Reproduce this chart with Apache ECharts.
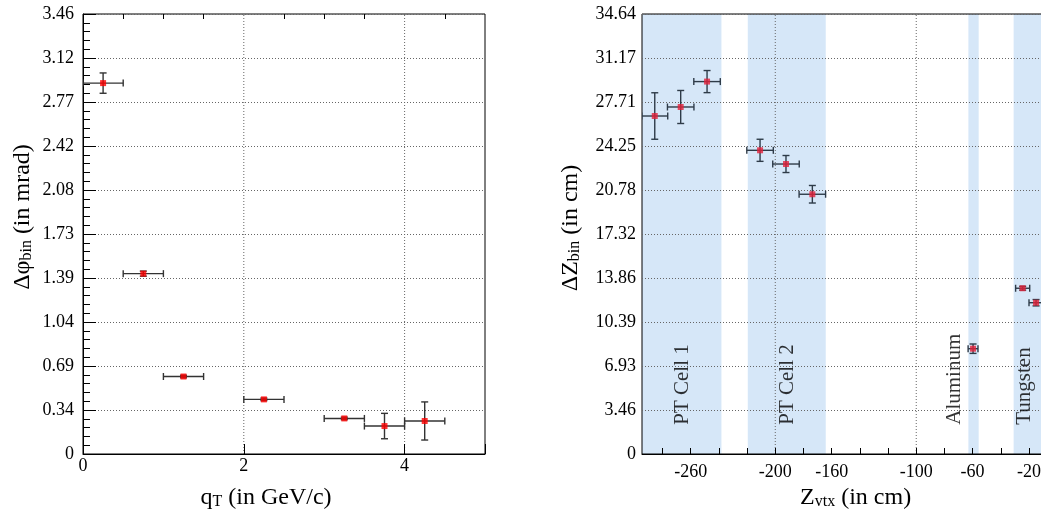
<!DOCTYPE html>
<html><head><meta charset="utf-8">
<script src="https://cdn.jsdelivr.net/npm/echarts@6/dist/echarts.min.js"></script>
<style>html,body{margin:0;padding:0;background:#fff}#c{width:1041px;height:519px}</style>
</head><body><div id="c"></div>
<script>
// ---- Left panel data: Δφ_bin vs q_T ----
const leftX    = [0.25, 0.75, 1.25, 2.25, 3.25, 3.75, 4.25];
const leftXErr = [0.25, 0.25, 0.25, 0.25, 0.25, 0.25, 0.25];
const leftY    = [2.92, 1.42, 0.61, 0.43, 0.28, 0.22, 0.26];
const leftYErr = [0.08, 0.02, 0.01, 0.01, 0.01, 0.10, 0.15];
const leftYStep = 0.34641;
const leftYTickLabels = ['0', '0.34', '0.69', '1.04', '1.39', '1.73', '2.08', '2.42', '2.77', '3.12', '3.46'];
const leftXTickLabels = [0, 2, 4];
const leftXMinorTicks = [0.5, 1, 1.5, 2.5, 3, 3.5, 4.5];
const leftVGrid = [2, 4];

// ---- Right panel data: ΔZ_bin vs Z_vtx ----
const rightX    = [-285.5, -267.1, -248.4, -210.8, -192.4, -173.7, -59.7, -24.5, -15.0];
const rightXErr = [9.2, 9.4, 9.4, 9.4, 9.4, 9.4, 3.5, 5, 5];
const rightY    = [26.61, 27.32, 29.32, 23.91, 22.83, 20.45, 8.29, 13.05, 11.91];
const rightYErr = [1.83, 1.30, 0.87, 0.87, 0.67, 0.69, 0.37, 0.15, 0.25];
const rightYStep = 3.4641;
const rightYTickLabels = ['0', '3.46', '6.93', '10.39', '13.86', '17.32', '20.78', '24.25', '27.71', '31.17', '34.64'];
const rightXMin = -294.55, rightXMax = 0;
const rightXTicks = [-280,-260,-240,-220,-200,-180,-160,-140,-120,-100,-80,-60,-40,-20,0];
const rightXTickLabels = [-260, -200, -160, -100, -60, -20];
const rightVGrid = [-200, -100, 0];
const bandStart = [-294.55, -219.5, -63.0, -30.9];
const bandEnd   = [-238.2, -164.2, -55.7, -5];
const bandNames = ['PT Cell 1', 'PT Cell 2', 'Aluminum', 'Tungsten'];
const bandLabelX = [-265.5, -191.0, -72.7, -23.0];
const bandLabelY = [2.3, 2.3, 2.3, 2.3];

const FONT = 'Liberation Serif';
const pxPerUnitRight = 1.4096;

const chart = echarts.init(document.getElementById('c'), null, {renderer: 'canvas'});

function errSeries(xIdx, yIdx, xs, ys, xe, ye, color, name) {
  return {
    type: 'custom', name: name, xAxisIndex: xIdx, yAxisIndex: yIdx, z: 5, clip: true,
    data: xs.map((x, i) => [x, ys[i], xe[i], ye[i]]),
    renderItem: function (params, api) {
      const x = api.value(0), y = api.value(1), dx = api.value(2), dy = api.value(3);
      const l = api.coord([x - dx, y]), r = api.coord([x + dx, y]);
      const t = api.coord([x, y + dy]), b = api.coord([x, y - dy]);
      const cap = 3.5;
      const st = {stroke: color, lineWidth: 1.4};
      return {type: 'group', children: [
        {type: 'line', shape: {x1: l[0], y1: l[1], x2: r[0], y2: r[1]}, style: st},
        {type: 'line', shape: {x1: l[0], y1: l[1] - cap, x2: l[0], y2: l[1] + cap}, style: st},
        {type: 'line', shape: {x1: r[0], y1: r[1] - cap, x2: r[0], y2: r[1] + cap}, style: st},
        {type: 'line', shape: {x1: t[0], y1: t[1], x2: b[0], y2: b[1]}, style: st},
        {type: 'line', shape: {x1: t[0] - cap, y1: t[1], x2: t[0] + cap, y2: t[1]}, style: st},
        {type: 'line', shape: {x1: b[0] - cap, y1: b[1], x2: b[0] + cap, y2: b[1]}, style: st}
      ]};
    }
  };
}

function vGridSeries(xIdx, yIdx, xs, yMax) {
  return {
    type: 'custom', xAxisIndex: xIdx, yAxisIndex: yIdx, z: 3, silent: true,
    data: xs.map(x => [x]),
    renderItem: function (params, api) {
      const x = api.value(0);
      const a = api.coord([x, 0]), b = api.coord([x, yMax]);
      return {type: 'line', shape: {x1: a[0], y1: a[1], x2: b[0], y2: b[1]},
        style: {stroke: '#666', lineWidth: 1, lineDash: [1, 2]}};
    }
  };
}

const richName = {
  m: {fontFamily: FONT, fontSize: 24, color: '#000'},
  s: {fontFamily: FONT, fontSize: 16, color: '#000', verticalAlign: 'bottom'}
};
const splitDotted = {show: true, lineStyle: {color: '#666', width: 1, type: [1, 2]}};
const blackLine = {show: true, lineStyle: {color: '#000', width: 1}};

const rightWidth = (rightXMax - rightXMin) * pxPerUnitRight;

const option = {
  animation: false,
  backgroundColor: '#fff',
  grid: [
    {left: 83, top: 14, width: 402, height: 440, show: true, borderColor: '#000', borderWidth: 1, z: 3,
     backgroundColor: 'transparent', containLabel: false, outerBoundsMode: 'none'},
    {left: 642, top: 14, width: rightWidth, height: 440, show: true, borderColor: '#000', borderWidth: 1, z: 3,
     backgroundColor: 'transparent', containLabel: false, outerBoundsMode: 'none'}
  ],
  xAxis: [
    {gridIndex: 0, type: 'value', min: 0, max: 5, interval: 2, z: 3,
     axisLine: blackLine, splitLine: {show: false},
     axisTick: {show: true, inside: true, length: 10, lineStyle: {color: '#000'}},
     axisLabel: {fontFamily: FONT, fontSize: 18, color: '#000', margin: 3,
       formatter: v => leftXTickLabels.indexOf(v) >= 0 ? String(v) : ''},
     name: '{m|q}{s|T}{m| (in GeV/c)}', nameLocation: 'middle', nameGap: 32,
     nameTextStyle: {rich: richName, padding: [0, 36, 0, 0]}},
    {gridIndex: 0, type: 'value', min: 0, max: 5, z: 3,
     axisLine: {show: false}, splitLine: {show: false}, axisLabel: {show: false},
     axisTick: {show: true, inside: true, length: 5, lineStyle: {color: '#000'}, customValues: leftXMinorTicks}},
    {gridIndex: 1, type: 'value', min: rightXMin, max: rightXMax, z: 3,
     axisLine: blackLine, splitLine: {show: false},
     axisTick: {show: true, inside: true, length: 6, lineStyle: {color: '#000'}, customValues: rightXTicks},
     axisLabel: {fontFamily: FONT, fontSize: 18, color: '#000', margin: 9, customValues: rightXTickLabels},
     name: '{m|Z}{s|vtx}{m| (in cm)}', nameLocation: 'middle', nameGap: 32,
     nameTextStyle: {rich: richName, padding: [0, 0, 0, 12]}}
  ],
  yAxis: [
    {gridIndex: 0, type: 'value', min: 0, max: leftYStep * 10, interval: leftYStep, z: 3,
     axisLine: blackLine, splitLine: splitDotted,
     axisTick: {show: true, inside: true, length: 13, lineStyle: {color: '#000'}},
     minorTick: {show: true, splitNumber: 5, length: 7, lineStyle: {color: '#000'}},
     axisLabel: {fontFamily: FONT, fontSize: 18, color: '#000', margin: 9,
       formatter: (v, i) => leftYTickLabels[Math.round(v / leftYStep)]},
     name: '{m|Δφ}{s|bin}{m| (in mrad)}', nameLocation: 'middle', nameGap: 48, nameRotate: 90,
     nameTextStyle: {rich: richName, padding: [0, 0, 0, 34]}},
    {gridIndex: 1, type: 'value', min: 0, max: rightYStep * 10, interval: rightYStep, z: 3,
     axisLine: blackLine, splitLine: splitDotted,
     axisTick: {show: true, inside: true, length: 13, lineStyle: {color: '#000'}},
     minorTick: {show: true, splitNumber: 5, length: 7, lineStyle: {color: '#000'}},
     axisLabel: {fontFamily: FONT, fontSize: 18, color: '#000', margin: 6,
       formatter: (v, i) => rightYTickLabels[Math.round(v / rightYStep)]},
     name: '{m|ΔZ}{s|bin}{m| (in cm)}', nameLocation: 'middle', nameGap: 59, nameRotate: 90,
     nameTextStyle: {rich: richName, padding: [0, 0, 0, 12]}}
  ],
  series: [
    {type: 'custom', xAxisIndex: 2, yAxisIndex: 1, z: 1, silent: true, clip: true,
     data: bandStart.map((s, i) => [s, bandEnd[i]]),
     renderItem: function (params, api) {
       const a = api.coord([api.value(0), rightYStep * 10]);
       const b = api.coord([api.value(1), 0]);
       return {type: 'rect', shape: {x: a[0], y: a[1], width: b[0] - a[0], height: b[1] - a[1]},
         style: {fill: '#d6e7f8'}};
     }},
    vGridSeries(0, 0, leftVGrid, leftYStep * 10),
    vGridSeries(2, 1, rightVGrid, rightYStep * 10),
    errSeries(0, 0, leftX, leftY, leftXErr, leftYErr, '#333333', 'left'),
    {type: 'scatter', xAxisIndex: 0, yAxisIndex: 0, z: 6, symbol: 'rect', symbolSize: 6,
     itemStyle: {color: '#ff0000'}, data: leftX.map((x, i) => [x, leftY[i]])},
    errSeries(2, 1, rightX, rightY, rightXErr, rightYErr, '#2e3b48', 'right'),
    {type: 'scatter', xAxisIndex: 2, yAxisIndex: 1, z: 6, symbol: 'rect', symbolSize: 6,
     itemStyle: {color: '#e3203a'}, data: rightX.map((x, i) => [x, rightY[i]])},
    {type: 'scatter', xAxisIndex: 2, yAxisIndex: 1, z: 6, symbolSize: 0, silent: true,
     itemStyle: {color: 'transparent'},
     data: bandNames.map((n, i) => ({name: n, value: [bandLabelX[i], bandLabelY[i]]})),
     label: {show: true, position: 'inside', rotate: 90, align: 'left', verticalAlign: 'middle',
       formatter: p => p.name, fontFamily: FONT, fontSize: 21, color: '#000',
       textBorderWidth: 0, textBorderColor: 'transparent'}}
  ]
};
chart.setOption(option);
</script>
</body></html>
